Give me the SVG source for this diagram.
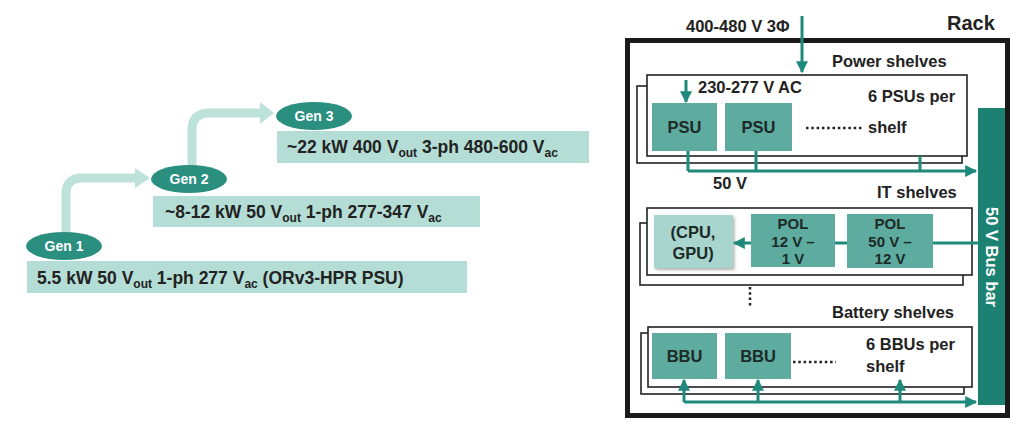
<svg xmlns="http://www.w3.org/2000/svg" width="1026" height="436" viewBox="0 0 1026 436">
<defs>
<style>
text{font-family:"Liberation Sans",Arial,sans-serif;font-weight:bold;fill:#222}
.gen{fill:#2b8f80}
.genlbl{fill:#fff;font-size:14px;text-anchor:middle}
.spec{fill:#b3ddd5}
.spectxt{font-size:17.5px}
.sub{font-size:12px}
.evo{fill:none;stroke:#bde2da;stroke-width:9}
.evohead{fill:#bde2da}
.shelf{fill:#fff;stroke:#222;stroke-width:1.6}
.unit{fill:#5eab9f}
.unittxt{font-size:16.5px;text-anchor:middle;fill:#1c2a28}
.pol{font-size:15px;text-anchor:middle;fill:#1c2a28}
.lbl{font-size:16.5px}
.wire{fill:none;stroke:#1f8a7b;stroke-width:3}
.dots{fill:none;stroke:#222;stroke-width:2.5;stroke-dasharray:2.5 2.8}
</style>
<marker id="ah" viewBox="0 0 10 10" refX="9" refY="5" markerWidth="4.4" markerHeight="4" markerUnits="strokeWidth" orient="auto-start-reverse">
<path d="M0,0 L10,5 L0,10 z" fill="#1f8a7b"/>
</marker>
<filter id="sh" x="-10%" y="-10%" width="130%" height="130%">
<feDropShadow dx="1.5" dy="2" stdDeviation="1.5" flood-color="#000" flood-opacity="0.3"/>
</filter>
</defs>
<rect width="1026" height="436" fill="#fff"/>

<!-- Evolution arrows -->
<g id="evolution-arrows">
<path class="evo" d="M66,236 V194 Q66,178 82,178 H137"/>
<polygon class="evohead" points="135,168 150,178 135,188"/>
<path class="evo" d="M192,168 V130 Q192,113 209,113 H262"/>
<polygon class="evohead" points="260,102 274,113 260,124"/>
</g>

<g id="gen1">
<rect class="spec" x="27" y="261" width="440" height="32"/>
<text class="spectxt" x="37" y="284">5.5 kW 50 V<tspan class="sub" dy="4">out</tspan><tspan dy="-4"> 1-ph 277 V</tspan><tspan class="sub" dy="4">ac</tspan><tspan dy="-4"> (ORv3-HPR PSU)</tspan></text>
<ellipse class="gen" cx="64" cy="246" rx="38" ry="14"/>
<text class="genlbl" x="64" y="251">Gen 1</text>
</g>

<g id="gen2">
<rect class="spec" x="153" y="196" width="327" height="31"/>
<text class="spectxt" x="165" y="218">~8-12 kW 50 V<tspan class="sub" dy="4">out</tspan><tspan dy="-4"> 1-ph 277-347 V</tspan><tspan class="sub" dy="4">ac</tspan></text>
<ellipse class="gen" cx="189" cy="179" rx="38" ry="14"/>
<text class="genlbl" x="189" y="184">Gen 2</text>
</g>

<g id="gen3">
<rect class="spec" x="277" y="131" width="312" height="32"/>
<text class="spectxt" x="287" y="153">~22 kW 400 V<tspan class="sub" dy="4">out</tspan><tspan dy="-4"> 3-ph 480-600 V</tspan><tspan class="sub" dy="4">ac</tspan></text>
<ellipse class="gen" cx="314" cy="116" rx="38" ry="14"/>
<text class="genlbl" x="314" y="121">Gen 3</text>
</g>

<!-- Rack -->
<g id="rack">
<rect x="627.5" y="40.5" width="380" height="375" fill="#fff" stroke="#1a1a1a" stroke-width="5"/>
<text x="947" y="30" style="font-size:20px">Rack</text>
<text x="686" y="32" class="lbl">400-480 V 3Φ</text>
</g>

<g id="bus-bar">
<rect x="978" y="108" width="27" height="297" fill="#1d8172"/>
<text transform="translate(986,257) rotate(90)" style="font-size:16.5px;fill:#fff;text-anchor:middle">50 V Bus bar</text>
</g>

<g id="power-shelves">
<text x="832" y="67" class="lbl">Power shelves</text>
<rect class="shelf" x="637" y="86" width="325" height="77"/>
<rect class="shelf" x="647" y="75" width="320" height="81"/>
<text x="698" y="93" class="lbl">230-277 V AC</text>
<text x="868" y="102" class="lbl">6 PSUs per</text>
<text x="868" y="133" class="lbl">shelf</text>
<text x="713" y="189" class="lbl">50 V</text>
</g>
<g id="psu1"><rect class="unit" x="652" y="103" width="65" height="48"/><text class="unittxt" x="684.5" y="133">PSU</text></g>
<g id="psu2"><rect class="unit" x="725" y="103" width="67" height="48"/><text class="unittxt" x="758.5" y="133">PSU</text></g>

<g id="it-shelves">
<text x="877" y="198" class="lbl">IT shelves</text>
<rect class="shelf" x="640" y="223" width="323" height="62"/>
<rect class="shelf" x="647" y="208" width="325" height="67"/>
</g>
<g id="cpu-gpu"><rect x="654" y="215" width="79" height="53" fill="#a8d5cd" filter="url(#sh)"/><text class="unittxt" x="693" y="238">(CPU,</text><text class="unittxt" x="693" y="259">GPU)</text></g>
<g id="pol1"><rect class="unit" x="751" y="214" width="84" height="53"/><text class="pol" x="793" y="229">POL</text><text class="pol" x="793" y="247">12 V –</text><text class="pol" x="793" y="264">1 V</text></g>
<g id="pol2"><rect class="unit" x="847" y="214" width="86" height="54"/><text class="pol" x="890" y="229">POL</text><text class="pol" x="890" y="247">50 V –</text><text class="pol" x="890" y="264">12 V</text></g>

<g id="battery-shelves">
<text x="832" y="318" class="lbl">Battery shelves</text>
<rect class="shelf" x="641" y="333" width="323" height="61"/>
<rect class="shelf" x="648" y="327" width="324" height="60"/>
<text x="866" y="350" class="lbl">6 BBUs per</text>
<text x="866" y="372" class="lbl">shelf</text>
</g>
<g id="bbu1"><rect class="unit" x="652" y="333" width="65" height="46"/><text class="unittxt" x="684.5" y="362">BBU</text></g>
<g id="bbu2"><rect class="unit" x="725" y="333" width="66" height="46"/><text class="unittxt" x="758" y="362">BBU</text></g>

<g id="ellipses">
<line class="dots" x1="806" y1="128" x2="863" y2="128"/>
<line class="dots" x1="793" y1="362" x2="836" y2="362"/>
<line class="dots" x1="750" y1="287" x2="750" y2="306"/>
</g>

<g id="connectors">
<line class="wire" x1="802" y1="16" x2="802" y2="72" marker-end="url(#ah)"/>
<line class="wire" x1="686" y1="80" x2="686" y2="102" marker-end="url(#ah)"/>
<path class="wire" d="M688,151 V171 M756,151 V171 M920,156 V171"/>
<line class="wire" x1="688" y1="171" x2="976" y2="171" marker-end="url(#ah)"/>
<line class="wire" x1="978" y1="243" x2="933" y2="243"/>
<line class="wire" x1="847" y1="243" x2="835" y2="243"/>
<line class="wire" x1="751" y1="243" x2="734" y2="243" marker-end="url(#ah)"/>
<line class="wire" x1="684" y1="402" x2="976" y2="402" marker-end="url(#ah)"/>
<line class="wire" x1="684" y1="402" x2="684" y2="380" marker-end="url(#ah)"/>
<line class="wire" x1="758" y1="402" x2="758" y2="380" marker-end="url(#ah)"/>
<line class="wire" x1="900" y1="402" x2="900" y2="380" marker-end="url(#ah)"/>
</g>
</svg>
